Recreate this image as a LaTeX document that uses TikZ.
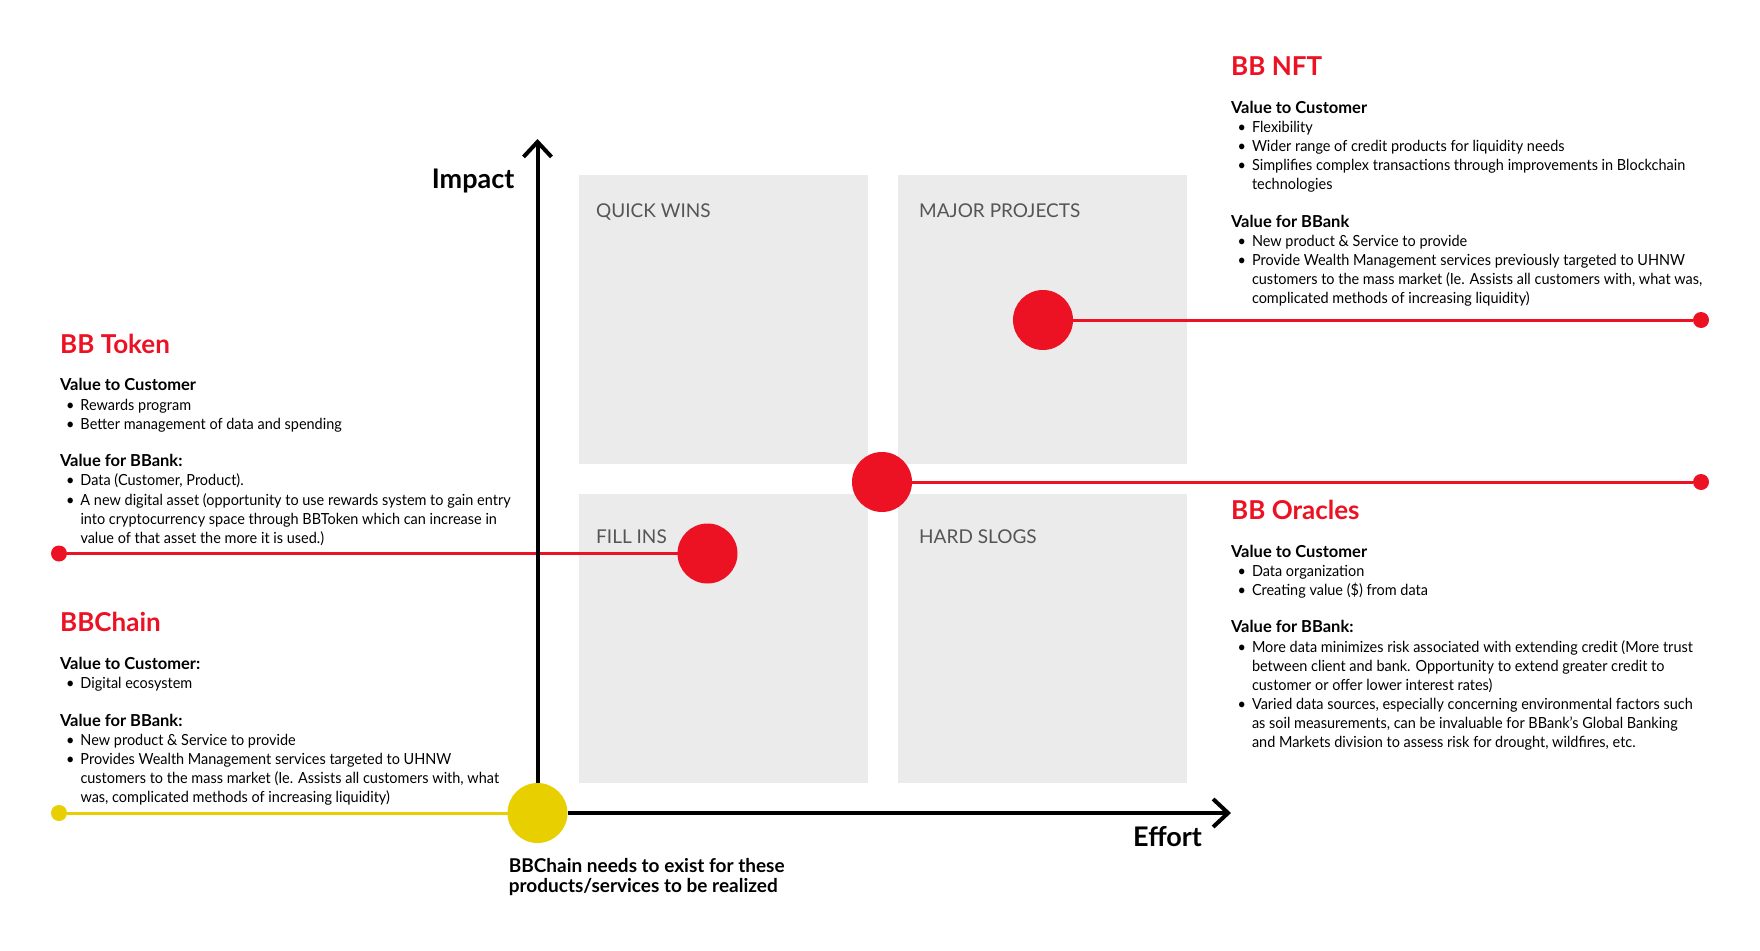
\documentclass[tikz,border=0pt]{standalone}
\usepackage{fontspec}
\setmainfont{Lato}
\newfontfamily\bodyfont{Lato}[FakeStretch=0.945]
\usetikzlibrary{arrows.meta}
\definecolor{bbred}{RGB}{237,17,36}
\definecolor{bbyellow}{RGB}{232,208,0}
\definecolor{boxgray}{RGB}{235,235,235}
\definecolor{labgray}{RGB}{85,85,85}
\newcommand\bline[4]{\node[txt] (#1) at (#2,#3) {\makebox[14.5pt][l]{\textbullet}#4};}
\newcommand\tline[4]{\node[txt] (#1) at (#2,#3) {#4};}
\newcommand\hdline[4]{\node[hd] (#1) at (#2,#3) {#4};}
\begin{document}
\begin{tikzpicture}[x=1pt,y=-1pt,
 txt/.style={anchor=base west, inner sep=0pt, outer sep=0pt, font=\bodyfont\fontsize{15.3}{19}\selectfont},
 hd/.style={txt, font=\rmfamily\bfseries\fontsize{16.5}{19}\selectfont},
 ttl/.style={anchor=base west, inner sep=0pt, font=\bfseries\fontsize{26}{30}\selectfont, text=bbred},
 quad/.style={anchor=base west, inner sep=0pt, font=\fontsize{19}{22}\selectfont, text=labgray},
 qbox/.style={fill=boxgray, draw=none, minimum width=289, minimum height=289, inner sep=0pt},
 bigdot/.style={circle, fill=bbred, minimum size=60, inner sep=0pt, outer sep=0pt},
 smalldot/.style={circle, fill=bbred, minimum size=16, inner sep=0pt, outer sep=0pt},
 redline/.style={draw=bbred, line width=3pt},
 yelline/.style={draw=bbyellow, line width=3pt},
 axisline/.style={draw=black, line width=4pt, -{Straight Barb[length=15pt,width=28pt]}},
 axlabel/.style={inner sep=0pt, anchor=base west, font=\bfseries\fontsize{27}{30}\selectfont},
 note/.style={inner sep=0pt, anchor=base west, font=\bfseries\fontsize{19}{20}\selectfont},
]
\fill[white] (0,0) rectangle (1760,950);
\useasboundingbox (0,0) rectangle (1760,950);

% quadrant boxes
\node[qbox] (qwbox) at (723.5,319.5) {};
\node[qbox] (mpbox) at (1042.5,319.5) {};
\node[qbox] (fibox) at (723.5,638.5) {};
\node[qbox] (hsbox) at (1042.5,638.5) {};
\node[quad] (qwlab) at (596,217) {QUICK WINS};
\node[quad] (mplab) at (919,217) {MAJOR PROJECTS};
\node[quad] (filab) at (596,543) {FILL INS};
\node[quad] (hslab) at (919,543) {HARD SLOGS};

% dots
\node[bigdot] (nftc) at (1043,320) {};
\node[bigdot] (cenc) at (882,482) {};
\node[bigdot] (filc) at (707.5,553.5) {};
\node[bigdot, fill=bbyellow] (chainc) at (537.5,813) {};
\node[smalldot] (nftd) at (1701,320) {};
\node[smalldot] (orad) at (1701,482) {};
\node[smalldot] (tokd) at (59,553.5) {};
\node[smalldot, fill=bbyellow] (chaind) at (59,813) {};

\draw[redline] (nftc) -- (nftd);
\draw[redline] (cenc) -- (orad);
\draw[redline] (tokd) -- (filc);
\draw[yelline] (chaind) -- (chainc);

% axes
\coordinate (ytip) at (537.5,139);
\coordinate (xtip) at (1231,813);
\draw[axisline] (chainc.north) -- (ytip);
\draw[axisline] (chainc.east) -- (xtip);
\node[axlabel] (impact) at (431.6,188) {Impact};
\node[axlabel] (effort) at (1133,846.7) {Effort};
\node[note] (note1) at (508.6,872) {BBChain needs to exist for these};
\node[note] (note2) at (508.6,892) {products/services to be realized};

% BB NFT
\node[ttl] (nftt) at (1231,75) {BB NFT};
\hdline{n1}{1231}{113}{Value to Customer}
\bline{n2}{1237.5}{132.7}{Flexibility}
\bline{n3}{1237.5}{151.5}{Wider range of credit products for liquidity needs}
\bline{n4}{1237.5}{170.3}{Simplifies complex transactions through improvements in Blockchain}
\tline{n5}{1252}{189}{technologies}
\hdline{n6}{1231}{227}{Value for BBank}
\bline{n7}{1237.5}{246}{New product \& Service to provide}
\bline{n8}{1237.5}{265}{Provide Wealth Management services previously targeted to UHNW}
\tline{n9}{1252}{284}{customers to the mass market (Ie. Assists all customers with, what was,}
\tline{n10}{1252}{303}{complicated methods of increasing liquidity)}

% BB Token
\node[ttl] (tokt) at (60,353) {BB Token};
\hdline{t1}{60}{390.7}{Value to Customer}
\bline{t2}{66}{410}{Rewards program}
\bline{t3}{66}{429}{Better management of data and spending}
\hdline{t4}{60}{466.7}{Value for BBank:}
\bline{t5}{66}{485.7}{Data (Customer, Product).}
\bline{t6}{66}{505}{A new digital asset (opportunity to use rewards system to gain entry}
\tline{t7}{80.5}{524}{into cryptocurrency space through BBToken which can increase in}
\tline{t8}{80.5}{543}{value of that asset the more it is used.)}

% BBChain
\node[ttl] (chat) at (60,631) {BBChain};
\hdline{c1}{60}{669}{Value to Customer:}
\bline{c2}{66}{688.3}{Digital ecosystem}
\hdline{c3}{60}{726}{Value for BBank:}
\bline{c4}{66}{745.3}{New product \& Service to provide}
\bline{c5}{66}{764}{Provides Wealth Management services targeted to UHNW}
\tline{c6}{80.5}{783.3}{customers to the mass market (Ie. Assists all customers with, what}
\tline{c7}{80.5}{802.3}{was, complicated methods of increasing liquidity)}

% BB Oracles
\node[ttl] (orat) at (1231,519.3) {BB Oracles};
\hdline{o1}{1231}{557.3}{Value to Customer}
\bline{o2}{1237.5}{576.7}{Data organization}
\bline{o3}{1237.5}{595.7}{Creating value (\$) from data}
\hdline{o4}{1231}{632.7}{Value for BBank:}
\bline{o5}{1237.5}{652.3}{More data minimizes risk associated with extending credit (More trust}
\tline{o6}{1252}{671}{between client and bank. Opportunity to extend greater credit to}
\tline{o7}{1252}{690}{customer or offer lower interest rates)}
\bline{o8}{1237.5}{709.7}{Varied data sources, especially concerning environmental factors such}
\tline{o9}{1252}{728.3}{as soil measurements, can be invaluable for BBank’s Global Banking}
\tline{o10}{1252}{747.3}{and Markets division to assess risk for drought, wildfires, etc.}
\end{tikzpicture}
\end{document}
